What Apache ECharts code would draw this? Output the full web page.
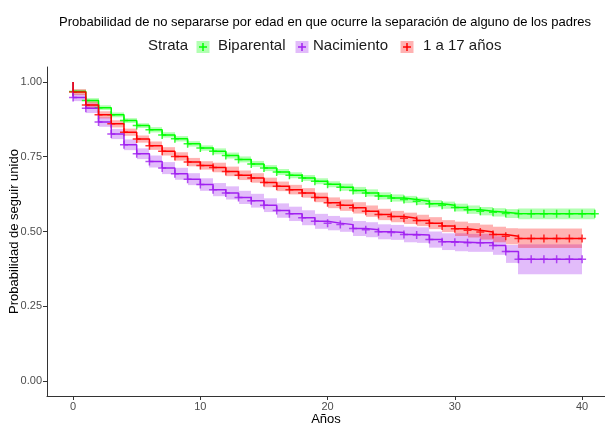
<!DOCTYPE html>
<html>
<head>
<meta charset="utf-8">
<script src="https://cdn.jsdelivr.net/npm/echarts@6/dist/echarts.min.js"></script>
<style>
  html, body { margin: 0; padding: 0; background: #fff; }
  #survChart { width: 605px; height: 423px; }
</style>
</head>
<body>
<div id="survChart"></div>
<script>
// años (eje x)
var years = [0, 1, 2, 3, 4, 5, 6, 7, 8, 9, 10, 11, 12, 13, 14, 15, 16, 17, 18, 19, 20,
  21, 22, 23, 24, 25, 26, 27, 28, 29, 30, 31, 32, 33, 34, 35, 36, 37, 38, 39, 40, 41]

// nombres de los estratos
var strata = ['Biparental', 'Nacimiento', '1 a 17 años']

// ticks
var xTicks = [0, 10, 20, 30, 40]
var yTicks = [0, 0.25, 0.5, 0.75, 1]

// Biparental
var greenSurv = [0.968, 0.938, 0.914, 0.890, 0.871, 0.854, 0.840, 0.823, 0.810, 0.793,
  0.779, 0.768, 0.754, 0.741, 0.726, 0.712, 0.699, 0.688, 0.679, 0.668,
  0.658, 0.648, 0.637, 0.629, 0.619, 0.612, 0.607, 0.601, 0.593, 0.588,
  0.580, 0.573, 0.568, 0.564, 0.560, 0.559, 0.559, 0.559, 0.559, 0.559, 0.559, 0.559]
var greenUpper = [0.974, 0.946, 0.922, 0.898, 0.879, 0.862, 0.849, 0.832, 0.819, 0.802,
  0.788, 0.778, 0.764, 0.751, 0.736, 0.722, 0.709, 0.698, 0.689, 0.678,
  0.668, 0.660, 0.649, 0.641, 0.631, 0.624, 0.619, 0.613, 0.605, 0.600,
  0.593, 0.587, 0.582, 0.578, 0.575, 0.577, 0.577, 0.577, 0.577, 0.577, 0.577]
var greenLower = [0.962, 0.930, 0.906, 0.882, 0.863, 0.846, 0.831, 0.814, 0.801, 0.784,
  0.770, 0.758, 0.744, 0.731, 0.716, 0.702, 0.689, 0.678, 0.669, 0.658,
  0.648, 0.636, 0.625, 0.617, 0.607, 0.600, 0.595, 0.589, 0.581, 0.576,
  0.567, 0.559, 0.554, 0.550, 0.545, 0.541, 0.541, 0.541, 0.541, 0.541, 0.541]

// Nacimiento
var purpleSurv = [0.948, 0.912, 0.866, 0.826, 0.790, 0.760, 0.734, 0.712, 0.693, 0.675,
  0.657, 0.640, 0.629, 0.614, 0.603, 0.588, 0.570, 0.559, 0.546, 0.534,
  0.528, 0.523, 0.510, 0.506, 0.499, 0.497, 0.490, 0.488, 0.473, 0.466,
  0.464, 0.462, 0.462, 0.453, 0.433, 0.407, 0.407, 0.407, 0.407, 0.407, 0.407]
var purpleUpper = [0.960, 0.928, 0.882, 0.843, 0.808, 0.778, 0.754, 0.732, 0.713, 0.695,
  0.678, 0.662, 0.651, 0.636, 0.626, 0.611, 0.594, 0.583, 0.571, 0.559,
  0.552, 0.547, 0.535, 0.531, 0.524, 0.522, 0.516, 0.514, 0.500, 0.494,
  0.494, 0.492, 0.492, 0.484, 0.455, 0.457, 0.457, 0.457, 0.457, 0.457]
var purpleLower = [0.936, 0.896, 0.850, 0.809, 0.772, 0.742, 0.714, 0.692, 0.673, 0.655,
  0.636, 0.618, 0.607, 0.592, 0.580, 0.565, 0.546, 0.535, 0.521, 0.509,
  0.504, 0.499, 0.485, 0.481, 0.474, 0.472, 0.464, 0.462, 0.446, 0.438,
  0.434, 0.432, 0.432, 0.422, 0.395, 0.357, 0.357, 0.357, 0.357, 0.357]

// 1 a 17 años
var redSurv = [0.966, 0.923, 0.890, 0.860, 0.832, 0.809, 0.787, 0.768, 0.751, 0.732,
  0.721, 0.714, 0.701, 0.688, 0.679, 0.664, 0.651, 0.640, 0.629, 0.614,
  0.596, 0.588, 0.579, 0.568, 0.557, 0.550, 0.544, 0.537, 0.528, 0.518,
  0.509, 0.504, 0.498, 0.490, 0.484, 0.477, 0.477, 0.477, 0.477, 0.477, 0.477]
var redUpper = [0.976, 0.935, 0.902, 0.872, 0.844, 0.821, 0.801, 0.782, 0.765, 0.746,
  0.735, 0.730, 0.717, 0.704, 0.695, 0.680, 0.667, 0.656, 0.645, 0.630,
  0.614, 0.607, 0.598, 0.587, 0.576, 0.569, 0.563, 0.556, 0.548, 0.538,
  0.533, 0.528, 0.523, 0.516, 0.511, 0.510, 0.510, 0.510, 0.510, 0.510]
var redLower = [0.956, 0.911, 0.878, 0.848, 0.820, 0.797, 0.773, 0.754, 0.737, 0.718,
  0.707, 0.698, 0.685, 0.672, 0.663, 0.648, 0.635, 0.624, 0.613, 0.598,
  0.578, 0.569, 0.560, 0.549, 0.538, 0.531, 0.525, 0.518, 0.508, 0.498,
  0.485, 0.480, 0.473, 0.464, 0.457, 0.445, 0.445, 0.445, 0.445, 0.445]

var FONT = 'Liberation Sans, Arial, sans-serif'
var colors = ['#00FF00', '#A020F0', '#FF0000']
var fills = ['rgba(0,255,0,0.3)', 'rgba(160,32,240,0.3)', 'rgba(255,0,0,0.3)']
var plusPath = 'path://M0,3.25h8v1.5h-8z M3.25,0h1.5v8h-1.5z'

// curva escalonada: empieza en 1 en t = 0
function stepData(surv) {
  var d = [[0, 1]]
  surv.forEach(function (v, i) { d.push([years[i], v]) })
  return d
}
function markData(surv) {
  return surv.map(function (v, i) { return [years[i], v] })
}
function bandData(lower, upper) {
  return lower.map(function (lo, i) { return [years[i], years[i + 1], lo, upper[i]] })
}

function bandSeries(name, lower, upper, fill) {
  return {
    name: name,
    type: 'custom',
    silent: true,
    data: bandData(lower, upper),
    encode: { x: [0, 1], y: [2, 3] },
    renderItem: function (params, api) {
      var p1 = api.coord([api.value(0), api.value(3)])
      var p2 = api.coord([api.value(1), api.value(2)])
      var x1 = Math.round(p1[0]), x2 = Math.round(p2[0])
      return {
        type: 'rect',
        shape: { x: x1, y: p1[1], width: x2 - x1, height: p2[1] - p1[1] },
        style: { fill: fill }
      }
    }
  }
}
function lineSeries(name, surv, color) {
  return {
    name: name,
    type: 'line',
    step: 'end',
    showSymbol: false,
    silent: true,
    data: stepData(surv),
    lineStyle: { color: color, width: 1.5 }
  }
}
function markSeries(name, surv, color) {
  return {
    name: name,
    type: 'scatter',
    symbol: plusPath,
    symbolSize: 8,
    silent: true,
    data: markData(surv),
    itemStyle: { color: color }
  }
}

// leyenda dibujada a mano
function legendGraphic() {
  var items = [
    { box: 196.5, text: 218 },
    { box: 295.5, text: 313 },
    { box: 400.5, text: 423 }
  ]
  var g = [{
    type: 'text', left: 148, top: 38,
    style: { text: 'Strata', font: '15px ' + FONT, fill: '#1a1a1a' }
  }]
  items.forEach(function (it, i) {
    g.push({
      type: 'rect',
      shape: { x: it.box, y: 41, width: 13, height: 12 },
      style: { fill: fills[i] }
    })
    g.push({
      type: 'group',
      children: [
        { type: 'rect', shape: { x: it.box + 2.5, y: 46.25, width: 8, height: 1.5 }, style: { fill: colors[i] } },
        { type: 'rect', shape: { x: it.box + 5.75, y: 43, width: 1.5, height: 8 }, style: { fill: colors[i] } }
      ]
    })
    g.push({
      type: 'text', left: it.text, top: 38,
      style: { text: strata[i], font: '15px ' + FONT, fill: '#1a1a1a' }
    })
  })
  return g
}

function survChart() {
  var myChart = echarts.init(document.getElementById('survChart'))
  var option = {
    backgroundColor: '#fff',
    animation: false,
    title: {
      text: 'Probabilidad de no separarse por edad en que ocurre la separación de alguno de los padres',
      left: 320,
      top: 11,
      textAlign: 'center',
      textStyle: { fontFamily: FONT, fontSize: 13, fontWeight: 'normal', color: '#000' }
    },
    graphic: legendGraphic(),
    grid: { left: 47, right: 0, top: 67, bottom: 27, containLabel: false, outerBoundsMode: 'none' },
    xAxis: {
      type: 'value',
      min: -2.05,
      max: 41.8,
      name: 'Años',
      nameLocation: 'middle',
      nameGap: 17,
      nameMoveOverlap: false,
      nameTextStyle: { fontFamily: FONT, fontSize: 13, color: '#000' },
      splitLine: { show: false },
      axisLine: { onZero: false, lineStyle: { color: '#333', width: 1 } },
      axisTick: { show: true, length: 4, customValues: xTicks, lineStyle: { color: '#333' } },
      axisLabel: { customValues: xTicks, margin: 5, fontFamily: FONT, fontSize: 11, color: '#4d4d4d' }
    },
    yAxis: {
      type: 'value',
      min: -0.05,
      max: 1.05,
      name: 'Probabilidad de seguir unido',
      nameLocation: 'middle',
      nameGap: 26,
      nameMoveOverlap: false,
      nameTextStyle: { fontFamily: FONT, fontSize: 13, color: '#000' },
      splitLine: { show: false },
      axisLine: { show: true, onZero: false, lineStyle: { color: '#333', width: 1 } },
      axisTick: { show: true, length: 4, customValues: yTicks, lineStyle: { color: '#333' } },
      axisLabel: {
        customValues: yTicks,
        margin: 5,
        fontFamily: FONT,
        fontSize: 11,
        color: '#4d4d4d',
        formatter: function (v) { return v.toFixed(2) }
      }
    },
    series: [
      bandSeries(strata[0], greenLower, greenUpper, fills[0]),
      bandSeries(strata[1], purpleLower, purpleUpper, fills[1]),
      bandSeries(strata[2], redLower, redUpper, fills[2]),
      lineSeries(strata[0], greenSurv, colors[0]),
      lineSeries(strata[1], purpleSurv, colors[1]),
      lineSeries(strata[2], redSurv, colors[2]),
      markSeries(strata[0], greenSurv, colors[0]),
      markSeries(strata[1], purpleSurv, colors[1]),
      markSeries(strata[2], redSurv, colors[2])
    ]
  }
  myChart.setOption(option)
  window.addEventListener('resize', function () {
    myChart.resize()
  })
}

survChart()
</script>
</body>
</html>
